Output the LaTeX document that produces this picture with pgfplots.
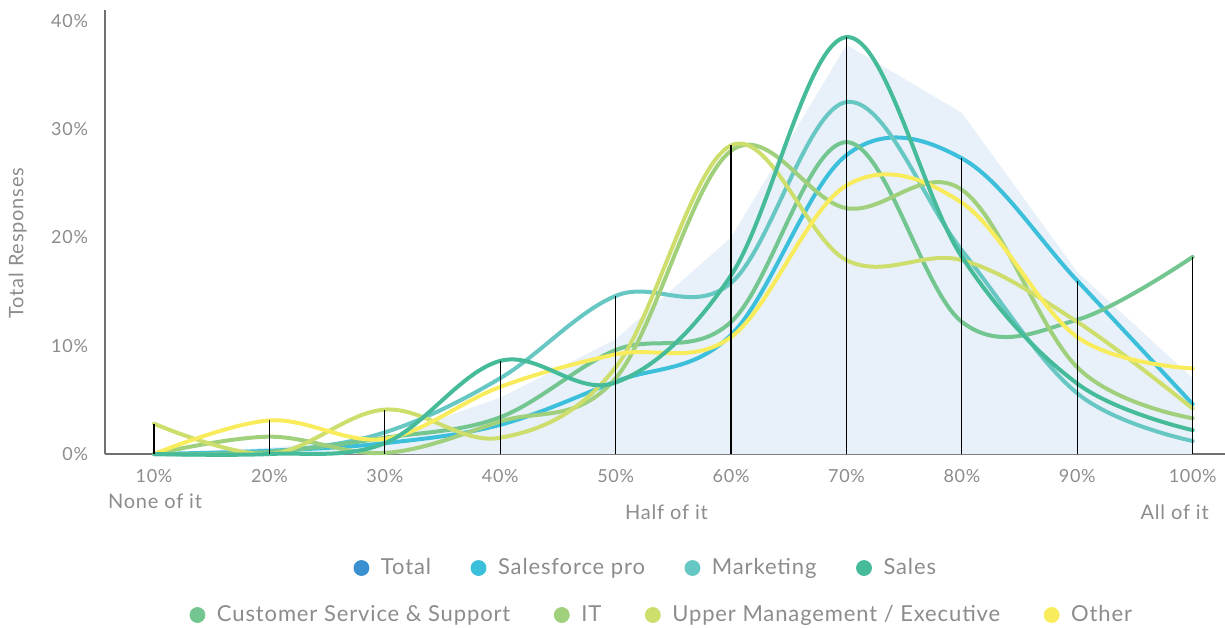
\documentclass[border=0pt]{standalone}
\usepackage{pgfplots}
\pgfplotsset{compat=1.18}
\usepackage{pgfplotstable}
\usepackage{fontspec}
\setmainfont{Lato}[LetterSpace=4]

\definecolor{cTotal}{HTML}{3A8FD0}
\definecolor{cSfp}{HTML}{3BBFDA}
\definecolor{cMkt}{HTML}{66C7C3}
\definecolor{cSales}{HTML}{45BB9A}
\definecolor{cCss}{HTML}{74C691}
\definecolor{cIt}{HTML}{A1D07D}
\definecolor{cUm}{HTML}{CDDE6C}
\definecolor{cOther}{HTML}{F8EC5C}
\definecolor{cArea}{HTML}{E8F1F9}
\definecolor{textgray}{HTML}{8C8C8C}
\definecolor{axisgray}{HTML}{707070}

% share of responses (%) by answer
\pgfplotstableread{
x   total sfp  mkt  sales css  it   um   other top
10  0     0    0    0     0    0    2.8  0     2.8
20  0.6   0.3  0.2  0     0.2  1.6  0    3.1   3.1
30  1.5   1.0  2.0  1.0   1.5  0.1  4.1  1.4   4.1
40  5.2   2.7  7.0  8.6   3.4  3.0  1.5  6.2   8.6
50  10.6  6.7  14.6 6.6   9.6  7.0  8.0  9.2   14.6
60  20.0  11.0 15.8 16.5  12.2 28.0 28.5 10.8  28.5
70  37.8  27.6 32.5 38.5  28.8 22.7 17.9 24.8  38.5
80  31.5  27.3 18.8 18.2  12.2 24.4 17.9 23.2  27.3
90  16.8  16.0 5.6  6.5   12.4 8.0  12.2 10.8  16.0
100 7.0   4.6  1.2  2.2   18.2 3.3  4.2  7.9   18.2
}\data

\pgfplotsset{
  curve/.style={smooth, tension=0.6, no marks, line width=2pt, line cap=round},
  leg/.style={only marks, mark=*, mark size=3.75pt, color=#1},
  legfont/.style={font=\fontsize{11}{13}\selectfont},
}

\begin{document}
\begin{tikzpicture}
\begin{axis}[
  scale only axis, width=560pt, height=222pt,
  xmin=5.75, xmax=102.8, ymin=0, ymax=41,
  axis lines=left,
  axis line style={draw=axisgray, line width=0.7pt, -},
  xtick={10,20,...,100},
  xticklabels={10\%,20\%,30\%,40\%,50\%,60\%,70\%,80\%,90\%,100\%},
  ytick={0,10,20,30,40},
  yticklabels={0\%,10\%,20\%,30\%,40\%},
  major tick length=0pt,
  tick label style={font=\fontsize{9}{10}\selectfont, text=textgray},
  xticklabel style={yshift=-4pt},
  yticklabel style={xshift=-5pt},
  ylabel={Total Responses},
  ylabel style={at={(axis description cs:-0.078,0.475)}, anchor=center,
    font=\fontsize{10}{12}\selectfont, text=textgray},
  clip=false,
  legend columns=4,
  legend style={at={(0.5,0)}, anchor=center, yshift=-57pt, xshift=-9pt,
    draw=none, fill=none, text=textgray, legfont,
    /tikz/every odd column/.append style={column sep=4pt},
    /tikz/every even column/.append style={column sep=18pt}},
]
\addlegendimage{leg=cTotal}\addlegendentry{Total}
\addlegendimage{leg=cSfp}\addlegendentry{Salesforce pro}
\addlegendimage{leg=cMkt}\addlegendentry{Marketing}
\addlegendimage{leg=cSales}\addlegendentry{Sales}

\addplot[fill=cArea, draw=none, forget plot] table[x=x, y=total] {\data} \closedcycle;

\addplot[curve, cSfp, forget plot] table[x=x, y=sfp] {\data};
\addplot[curve, cMkt, forget plot] table[x=x, y=mkt] {\data};
\addplot[curve, cCss, forget plot] table[x=x, y=css] {\data};
\addplot[curve, cIt, forget plot] table[x=x, y=it] {\data};
\addplot[curve, cUm, forget plot] table[x=x, y=um] {\data};
\addplot[curve, cOther, forget plot] table[x=x, y=other] {\data};
\addplot[curve, cSales, forget plot] table[x=x, y=sales] {\data};

\addplot[ycomb, black, line width=0.6pt, no marks, forget plot] table[x=x, y=top] {\data};

\node[anchor=base west, yshift=-27pt, text=textgray, font=\fontsize{10}{12}\selectfont] at (axis cs:5.4,0) {None of it};
\node[anchor=base, yshift=-32.5pt, text=textgray, font=\fontsize{10}{12}\selectfont] at (axis cs:54.4,0) {Half of it};
\node[anchor=base east, yshift=-32.5pt, text=textgray, font=\fontsize{10}{12}\selectfont] at (axis cs:102.0,0) {All of it};
\end{axis}

\begin{axis}[
  scale only axis, width=560pt, height=222pt,
  hide axis, xmin=0, xmax=1, ymin=0, ymax=1,
  legend columns=4,
  legend style={at={(0.5,0)}, anchor=center, yshift=-80.5pt, xshift=-1pt,
    draw=none, fill=none, text=textgray, legfont,
    /tikz/every odd column/.append style={column sep=4pt},
    /tikz/every even column/.append style={column sep=20pt}},
]
\addlegendimage{leg=cCss}\addlegendentry{Customer Service \& Support}
\addlegendimage{leg=cIt}\addlegendentry{IT}
\addlegendimage{leg=cUm}\addlegendentry{Upper Management / Executive}
\addlegendimage{leg=cOther}\addlegendentry{Other}
\end{axis}

\pgfresetboundingbox
\path ([xshift=-52.5pt, yshift=-86.5pt]current axis.south west) rectangle ([yshift=5pt]current axis.north east);
\end{tikzpicture}
\end{document}
